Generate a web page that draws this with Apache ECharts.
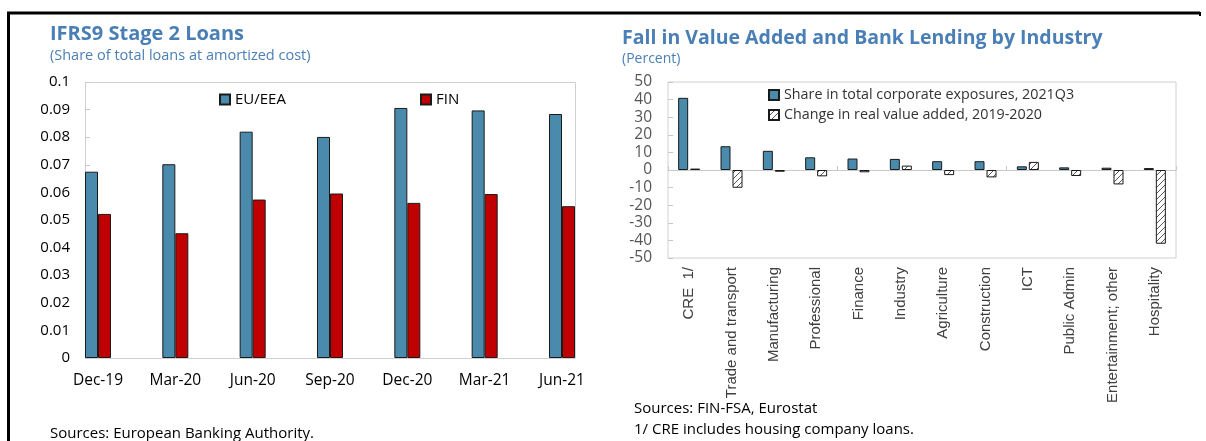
<!DOCTYPE html>
<html><head><meta charset="utf-8">
<script src="https://cdn.jsdelivr.net/npm/echarts@6/dist/echarts.min.js"></script>
<style>html,body{margin:0;padding:0;background:#fff}#c{width:1206px;height:441px}</style>
</head><body><div id="c"></div>
<script>
// Left chart data
const dates = ['Dec-19','Mar-20','Jun-20','Sep-20','Dec-20','Mar-21','Jun-21'];
const euEea = [0.0675,0.0702,0.0820,0.0801,0.0906,0.0897,0.0884];
const fin   = [0.0522,0.0452,0.0574,0.0596,0.0562,0.0594,0.0550];
// Right chart data
const industries = ['CRE  1/','Trade and transport','Manufacturing','Professional','Finance','Industry','Agriculture','Construction','ICT','Public Admin','Entertainment; other','Hospitality'];
const shareExposures = [41.0,13.5,10.9,7.2,6.5,6.3,5.0,5.0,2.1,1.5,1.3,1.1];
const changeValueAdded = [0.8,-10.1,-1.0,-3.6,-1.3,2.5,-2.9,-4.2,4.6,-3.4,-8.2,-41.9];

const hatch = (function(){
  const s = 6;
  const c = document.createElement('canvas'); c.width = s; c.height = s;
  const g = c.getContext('2d');
  g.fillStyle = '#fff'; g.fillRect(0,0,s,s);
  g.strokeStyle = '#444'; g.lineWidth = 0.9;
  g.beginPath();
  g.moveTo(-1,s+1); g.lineTo(s+1,-1);
  g.moveTo(-1,1); g.lineTo(1,-1);
  g.moveTo(s-1,s+1); g.lineTo(s+1,s-1);
  g.stroke();
  return c;
})();

const titleBlue = '#4a7fb5';
const FONT = '"Open Sans", "Noto Sans", sans-serif';
const chart = echarts.init(document.getElementById('c'), null, {renderer:'canvas'});
chart.setOption({
  animation: false,
  backgroundColor: '#fff',
  title: [
    {text:'IFRS9 Stage 2 Loans', left:45, top:19, textStyle:{fontFamily:FONT, fontSize:20, fontWeight:'bold', color:titleBlue},
     subtext:'(Share of total loans at amortized cost)', subtextStyle:{fontFamily:FONT, fontSize:14.5, color:titleBlue}, itemGap:4},
    {text:'Fall in Value Added and Bank Lending by Industry', left:617, top:23, textStyle:{fontFamily:FONT, fontSize:19.5, fontWeight:'bold', color:titleBlue},
     subtext:'(Percent)', subtextStyle:{fontFamily:FONT, fontSize:14, color:titleBlue}, itemGap:4}
  ],
  legend: [
    {data:['EU/EEA'], left:214, top:87, itemWidth:10, itemHeight:10, itemGap:4, textStyle:{fontFamily:FONT, fontSize:15, color:'#000'}, icon:'rect'},
    {data:['FIN'], left:415, top:87, itemWidth:10, itemHeight:10, textStyle:{fontFamily:FONT, fontSize:15, color:'#000'}, icon:'rect'},
    {data:['Share in total corporate exposures, 2021Q3','Change in real value added, 2019-2020'], orient:'vertical', left:763, top:83, itemGap:6,
     itemWidth:10, itemHeight:10, icon:'rect', textStyle:{fontFamily:FONT, fontSize:14.3, color:'#333'}}
  ],
  grid: [
    {left:98, right:644, top:82, bottom:83},
    {left:668, right:30, top:82, bottom:183, show:true, borderColor:'#d0d0d0', borderWidth:1}
  ],
  xAxis: [
    {type:'category', gridIndex:0, data:dates, boundaryGap:false, axisLine:{show:false}, axisTick:{show:false},
     axisLabel:{fontFamily:FONT, fontSize:15.5, color:'#000', margin:15}},
    {type:'category', gridIndex:1, data:industries, position:'bottom', axisLine:{show:false, onZero:false}, axisTick:{show:false},
     axisLabel:{rotate:90, fontFamily:'"Liberation Sans", Arial, sans-serif', fontSize:15, color:'#404040', margin:9}},
    {type:'category', gridIndex:1, data:industries, position:'bottom', axisLine:{show:true, onZero:true, lineStyle:{color:'#c8c8c8'}},
     axisTick:{show:true, inside:true, length:4, lineStyle:{color:'#c8c8c8'}}, axisLabel:{show:false}}
  ],
  yAxis: [
    {type:'value', gridIndex:0, min:0, max:0.1, interval:0.01, offset:13, splitLine:{show:false},
     axisLine:{show:false}, axisTick:{show:true, inside:true, length:5, lineStyle:{color:'#c8c8c8'}},
     axisLabel:{fontFamily:FONT, fontSize:15, color:'#000', margin:15}},
    {type:'value', gridIndex:1, min:-50, max:50, interval:10, splitLine:{show:false},
     axisLine:{show:false}, axisTick:{show:true, inside:true, length:5, lineStyle:{color:'#c8c8c8'}},
     axisLabel:{fontFamily:FONT, fontSize:15.5, color:'#555', margin:16}}
  ],
  series: [
    {name:'EU/EEA', type:'bar', xAxisIndex:0, yAxisIndex:0, data:euEea, barWidth:13, barGap:'0%', clip:false,
     itemStyle:{color:'#4a8aad', borderColor:'#1a1a1a', borderWidth:1}},
    {name:'FIN', type:'bar', xAxisIndex:0, yAxisIndex:0, data:fin, barWidth:13, barGap:'0%', clip:false,
     itemStyle:{color:'#c00000', borderColor:'#1a1a1a', borderWidth:1}},
    {name:'Share in total corporate exposures, 2021Q3', type:'bar', xAxisIndex:1, yAxisIndex:1, data:shareExposures, barWidth:10, barGap:'20%',
     itemStyle:{color:'#4a8aad', borderColor:'#1a1a1a', borderWidth:1}},
    {name:'Change in real value added, 2019-2020', type:'bar', xAxisIndex:1, yAxisIndex:1, data:changeValueAdded, barWidth:10, barGap:'20%',
     itemStyle:{color:{image:hatch, repeat:'repeat'}, borderColor:'#1a1a1a', borderWidth:1}}
  ],
  graphic: [
    {type:'rect', shape:{x:85.5, y:82.5, width:490, height:276}, style:{fill:null, stroke:'#d0d0d0', lineWidth:1}, silent:true, z:-1},
    {type:'line', shape:{x1:7, y1:13, x2:1200, y2:13}, style:{stroke:'#000', lineWidth:3}},
    {type:'line', shape:{x1:8.5, y1:12, x2:8.5, y2:441}, style:{stroke:'#000', lineWidth:3}},
    {type:'line', shape:{x1:1200, y1:12, x2:1200, y2:16}, style:{stroke:'#000', lineWidth:2}},
    {type:'text', left:50, top:426, style:{text:'Sources: European Banking Authority.', font:'15px '+FONT, fill:'#000'}},
    {type:'text', left:634, top:401, style:{text:'Sources: FIN-FSA, Eurostat', font:'15px '+FONT, fill:'#000'}},
    {type:'text', left:634, top:422, style:{text:'1/ CRE includes housing company loans.', font:'15px '+FONT, fill:'#000'}}
  ]
});
</script></body></html>
